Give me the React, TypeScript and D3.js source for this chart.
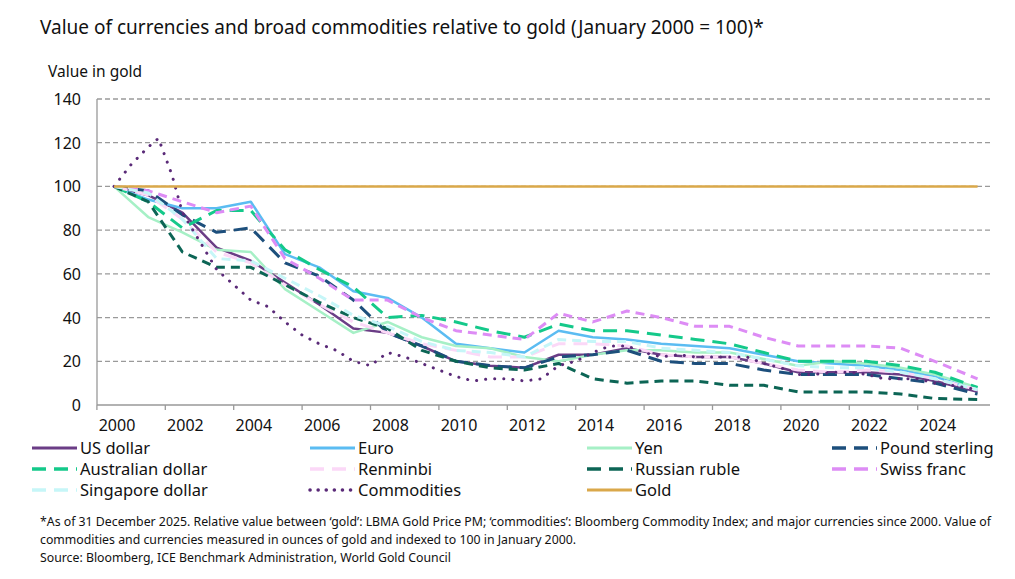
import React, { useEffect, useRef } from "react";
import * as d3 from "d3";

const years = [2000, 2001, 2002, 2003, 2004, 2005, 2006, 2007, 2008, 2009, 2010, 2011, 2012, 2013, 2014, 2015, 2016, 2017, 2018, 2019, 2020, 2021, 2022, 2023, 2024, 2025.25];

const usDollar = [100, 96, 88, 72, 66, 56, 46, 35, 33, 27, 20, 18, 17, 23, 23, 26, 23, 22, 22, 19, 15, 15, 15, 14, 11, 6];
const euro = [100, 94, 90, 90, 93, 69, 63, 52, 49, 40, 28, 26, 24, 34, 31, 30, 28, 27, 26, 23, 20, 19, 18, 16, 13, 7];
const yen = [100, 86, 79, 71, 70, 53, 43, 33, 38, 31, 27, 26, 22, 20, 23, 25, 25, 24, 24, 21, 18, 20, 19, 17, 14, 8];
const poundSterling = [100, 98, 87, 79, 81, 65, 59, 48, 33, 27, 20, 18, 17, 22, 23, 25, 20, 19, 19, 16, 14, 14, 14, 12, 10, 5];
const australianDollar = [100, 93, 81, 89, 89, 71, 62, 54, 40, 41, 38, 34, 31, 37, 34, 34, 32, 30, 28, 24, 20, 20, 20, 18, 15, 8];
const renminbi = [100, 96, 85, 70, 65, 55, 46, 38, 33, 28, 25, 22, 22, 28, 28, 27, 23, 22, 22, 19, 16, 15, 16, 15, 12, 7];
const russianRuble = [100, 93, 70, 63, 63, 55, 47, 40, 35, 25, 20, 17, 16, 19, 12, 10, 11, 11, 9, 9, 6, 6, 6, 5, 3, 2.5];
const swissFranc = [100, 98, 93, 88, 91, 67, 58, 48, 48, 40, 34, 32, 30, 42, 38, 43, 40, 36, 36, 31, 27, 27, 27, 26, 20, 12];
const singaporeDollar = [100, 97, 85, 67, 66, 58, 50, 41, 36, 29, 25, 24, 22, 30, 29, 29, 26, 25, 24, 21, 18, 17, 17, 15, 12, 7];
const gold = years.map(() => 100);

const commodityYears = [2000, 2000.5, 2001, 2001.3, 2001.7, 2002, 2002.5, 2003, 2003.5, 2004, 2004.5, 2005, 2005.5, 2006, 2006.5, 2007, 2007.5, 2008, 2008.5, 2009, 2009.5, 2010, 2010.5, 2011, 2011.5, 2012, 2012.5, 2013, 2013.5, 2014, 2014.5, 2015, 2015.5, 2016, 2016.5, 2017, 2017.5, 2018, 2018.5, 2019, 2019.5, 2020, 2020.5, 2021, 2021.5, 2022, 2022.5, 2023, 2023.5, 2024, 2024.5, 2025.25];
const commodities = [100, 110, 118, 122, 105, 88, 75, 62, 55, 48, 45, 38, 32, 28, 25, 20, 18, 24, 22, 19, 16, 13, 11, 12, 12, 11, 12, 18, 20, 24, 27, 27, 24, 22, 23, 22, 22, 22, 22, 19, 17, 14, 14, 15, 15, 14, 12, 12, 12, 10, 9, 7];

const xTickLabels = [2000, 2002, 2004, 2006, 2008, 2010, 2012, 2014, 2016, 2018, 2020, 2022, 2024];
const yTicks = [0, 20, 40, 60, 80, 100, 120, 140];

type Series = { name: string; xs: number[]; values: number[]; color: string; dash: string; width: number; cap?: string };

const series: Series[] = [
  { name: "US dollar", xs: years, values: usDollar, color: "#6b3d86", dash: "", width: 2.5 },
  { name: "Euro", xs: years, values: euro, color: "#5bbcf2", dash: "", width: 2.5 },
  { name: "Yen", xs: years, values: yen, color: "#a6f0c6", dash: "", width: 2.5 },
  { name: "Pound sterling", xs: years, values: poundSterling, color: "#1d4f7c", dash: "14,8", width: 3 },
  { name: "Australian dollar", xs: years, values: australianDollar, color: "#14c98a", dash: "14,8", width: 3 },
  { name: "Renminbi", xs: years, values: renminbi, color: "#fbd8f7", dash: "14,8", width: 3 },
  { name: "Russian ruble", xs: years, values: russianRuble, color: "#0c6555", dash: "9,6", width: 3 },
  { name: "Swiss franc", xs: years, values: swissFranc, color: "#dd8cf5", dash: "9,6", width: 3 },
  { name: "Singapore dollar", xs: years, values: singaporeDollar, color: "#c6f6f8", dash: "9,6", width: 3 },
  { name: "Commodities", xs: commodityYears, values: commodities, color: "#5a2a78", dash: "0.1,9", width: 3, cap: "round" },
  { name: "Gold", xs: years, values: gold, color: "#daa84a", dash: "", width: 2.5 },
];

const App: React.FC = () => {
  const svgRef = useRef<SVGSVGElement | null>(null);

  useEffect(() => {
    const svg = d3.select(svgRef.current);
    svg.selectAll("*").remove();
    const font = "'Noto Sans', 'Open Sans', sans-serif";

    const x = d3.scaleLinear().domain([2000, 2025]).range([114, 969]);
    const y = d3.scaleLinear().domain([0, 140]).range([405, 99]);

    svg.append("text").attr("x", 40).attr("y", 34).attr("font-size", 19).attr("fill", "#111")
      .attr("font-family", font).text("Value of currencies and broad commodities relative to gold (January 2000 = 100)*");
    svg.append("text").attr("x", 48).attr("y", 77).attr("font-size", 15.5).attr("fill", "#111")
      .attr("font-family", font).text("Value in gold");

    // gridlines
    svg.append("g").selectAll("line").data(yTicks.filter((t) => t > 0)).enter().append("line")
      .attr("x1", 97).attr("x2", 990).attr("y1", (d) => y(d)).attr("y2", (d) => y(d))
      .attr("stroke", "#9a9a9a").attr("stroke-width", 1.3).attr("stroke-dasharray", "5,3");

    // y labels
    svg.append("g").selectAll("text").data(yTicks).enter().append("text")
      .attr("x", 81).attr("y", (d) => y(d) + 6).attr("text-anchor", "end").attr("font-size", 16)
      .attr("font-family", font).attr("fill", "#111").text((d) => d);

    // axes lines
    svg.append("line").attr("x1", 97).attr("x2", 97).attr("y1", 99).attr("y2", 405).attr("stroke", "#999").attr("stroke-width", 1.3);
    svg.append("line").attr("x1", 97).attr("x2", 990).attr("y1", 405).attr("y2", 405).attr("stroke", "#999").attr("stroke-width", 1.3);
    svg.append("g").selectAll("line").data(xTickLabels).enter().append("line")
      .attr("x1", (d) => x(d - 0.5)).attr("x2", (d) => x(d - 0.5)).attr("y1", 405).attr("y2", 410)
      .attr("stroke", "#999").attr("stroke-width", 1.3);

    svg.append("g").selectAll("text").data(xTickLabels).enter().append("text")
      .attr("x", (d) => x(d) + 3).attr("y", 431).attr("text-anchor", "middle").attr("font-size", 16)
      .attr("font-family", font).attr("fill", "#111").text((d) => d);

    const line = d3.line<[number, number]>().x((d) => x(d[0])).y((d) => y(d[1]));
    series.forEach((s) => {
      const pts = s.xs.map((xv, i) => [xv, s.values[i]] as [number, number]);
      svg.append("path").attr("d", line(pts)).attr("fill", "none").attr("stroke", s.color)
        .attr("stroke-width", s.width).attr("stroke-dasharray", s.dash || null)
        .attr("stroke-linecap", s.cap || "butt").attr("stroke-linejoin", "round");
    });

    // legend
    const textX = [80, 358, 635, 880];
    const rowY = [448, 469, 490];
    series.forEach((s, i) => {
      const tx = textX[i % 4];
      const cy = rowY[Math.floor(i / 4)];
      svg.append("line").attr("x1", tx - 48).attr("x2", tx - 3).attr("y1", cy).attr("y2", cy)
        .attr("stroke", s.color).attr("stroke-width", s.width + 0.5)
        .attr("stroke-dasharray", s.dash ? (s.cap ? "0.1,8" : "14,8") : null)
        .attr("stroke-linecap", s.cap || "butt");
      svg.append("text").attr("x", tx).attr("y", cy + 6).attr("font-size", 16.5)
        .attr("font-family", font).attr("fill", "#111").text(s.name);
    });

    const notes = [
      "*As of 31 December 2025. Relative value between ‘gold’: LBMA Gold Price PM; ‘commodities’: Bloomberg Commodity Index; and major currencies since 2000. Value of",
      "commodities and currencies measured in ounces of gold and indexed to 100 in January 2000.",
      "Source: Bloomberg, ICE Benchmark Administration, World Gold Council",
    ];
    svg.append("g").selectAll("text").data(notes).enter().append("text")
      .attr("x", 40).attr("y", (_, i) => 526 + i * 18).attr("font-size", 12.3)
      .attr("font-family", font).attr("fill", "#111").text((d) => d);
  }, []);

  return <svg ref={svgRef} width={1015} height={579} style={{ position: "absolute", left: 0, top: 0, background: "#fff" }} />;
};

export default App;
